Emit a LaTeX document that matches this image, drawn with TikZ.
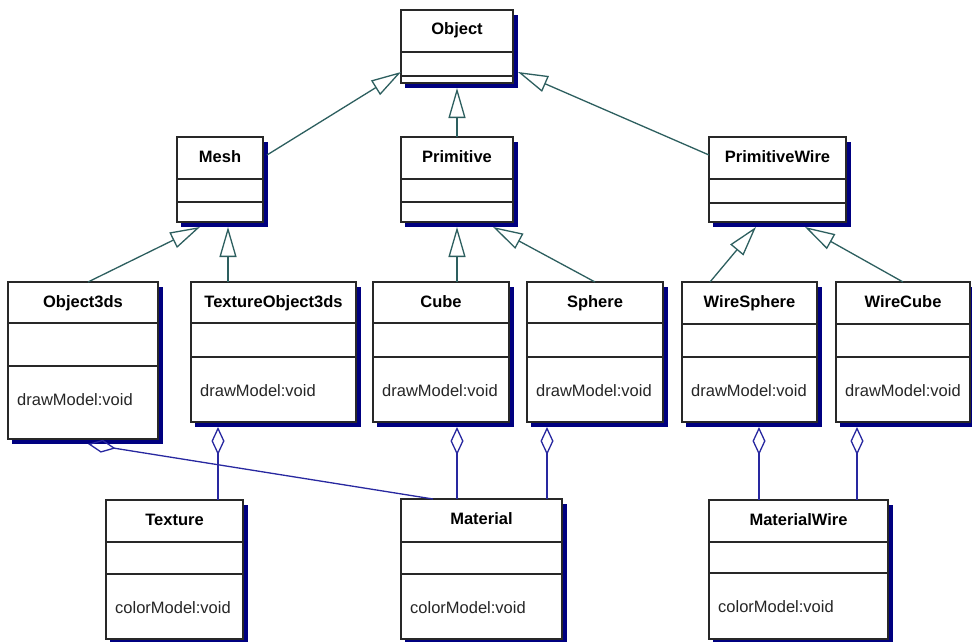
\documentclass[tikz,border=0pt]{standalone}
\usepackage{fontspec}
\setmainfont{Liberation Sans}
\usetikzlibrary{arrows.meta}
\definecolor{genc}{RGB}{45,95,95}
\definecolor{aggc}{RGB}{40,40,160}
\definecolor{shadowc}{RGB}{0,0,128}
\definecolor{boxc}{RGB}{40,40,40}
\tikzset{
  classbox/.style={draw=boxc, line width=1.4pt, fill=white, rectangle, inner sep=0pt, outer sep=0pt},
  sepline/.style={draw=boxc, line width=1.4pt},
  titletext/.style={font=\fontsize{16.5}{18}\selectfont\bfseries, inner sep=0pt},
  optext/.style={font=\fontsize{16.5}{18}\selectfont, inner sep=0pt, text=black!85},
  gen/.style={draw=genc, line width=1.3pt, -{Triangle[open, length=30pt, width=17pt, line width=1.3pt]}},
  agg/.style={draw=aggc, line width=1.3pt, {Diamond[open, length=28pt, width=13pt, line width=1.3pt]}-},
}
% #1 name, #2 x1, #3 y1, #4 x2, #5 y2, #6 first sep, #7 second sep, #8 title, #9 operation
\newcommand\umlclass[9]{%
  \fill[shadowc] (#2+4,#3+5) rectangle (#4+5,#5+5);
  \node[classbox, minimum width={#4pt-#2pt}, minimum height={#5pt-#3pt}] (#1) at ({(#2+#4)/2},{(#3+#5)/2}) {};
  \draw[sepline] (#2,#6) -- (#4,#6);
  \draw[sepline] (#2,#7) -- (#4,#7);
  \node[titletext, anchor=base] (#1-title) at ({(#2+#4)/2},#3+25) {#8};
  \if\relax\detokenize{#9}\relax\else
    \node[optext, anchor=base west] (#1-op) at (#2+9,#7+39) {#9};
  \fi
}
\begin{document}
\begin{tikzpicture}[x=1pt, y=-1pt]
\useasboundingbox (0,0) rectangle (972,642);
\fill[white] (0,0) rectangle (972,642);

\umlclass{object}{401}{10}{513}{83}{52}{76}{Object}{}
\umlclass{mesh}{177}{137}{263}{222}{179}{202}{Mesh}{}
\umlclass{prim}{401}{137}{513}{222}{179}{202}{Primitive}{}
\umlclass{pwire}{709}{137}{846}{222}{179}{203}{PrimitiveWire}{}

\umlclass{obj3ds}{8}{282}{158}{439}{323}{366}{Object3ds}{drawModel:void}
\umlclass{texobj}{191}{282}{356}{422}{323}{357}{TextureObject3ds}{drawModel:void}
\umlclass{cube}{373}{282}{509}{422}{323}{357}{Cube}{drawModel:void}
\umlclass{sphere}{527}{282}{663}{422}{323}{357}{Sphere}{drawModel:void}
\umlclass{wsphere}{682}{282}{817}{422}{324}{357}{WireSphere}{drawModel:void}
\umlclass{wcube}{836}{282}{970}{422}{324}{357}{WireCube}{drawModel:void}

\umlclass{texture}{106}{500}{243}{639}{542}{574}{Texture}{colorModel:void}
\umlclass{material}{401}{499}{562}{639}{542}{574}{Material}{colorModel:void}
\umlclass{matwire}{709}{500}{888}{639}{542}{573}{MaterialWire}{colorModel:void}

% generalizations
\draw[gen] ([xshift=4pt, yshift=-18pt]mesh.north east) -- ([yshift=11pt]object.south west);
\draw[gen] (prim.north) -- ([yshift=-5pt]object.south);
\draw[gen] ([yshift=-18pt]pwire.north west) -- ([xshift=5pt, yshift=11pt]object.south east);
\draw[gen] ([xshift=80pt]obj3ds.north west) -- ([xshift=-20pt, yshift=-5pt]mesh.south);
\draw[gen] ([xshift=37pt]texobj.north west) -- ([xshift=8pt, yshift=-5pt]mesh.south);
\draw[gen] ([xshift=16pt]cube.north) -- ([yshift=-5pt]prim.south);
\draw[gen] (sphere.north) -- ([xshift=36pt, yshift=-5pt]prim.south);
\draw[gen] ([xshift=28pt]wsphere.north west) -- ([xshift=-21.5pt, yshift=-5pt]pwire.south);
\draw[gen] (wcube.north) -- ([xshift=27.5pt, yshift=-5pt]pwire.south);

% aggregations
\draw[agg] ([xshift=80pt, yshift=-5pt]obj3ds.south west) -- ([xshift=32pt]material.north west);
\draw[agg] ([xshift=27pt, yshift=-5pt]texobj.south west) -- ([xshift=112pt]texture.north west);
\draw[agg] ([xshift=16pt, yshift=-5pt]cube.south) -- ([xshift=56pt]material.north west);
\draw[agg] ([xshift=20pt, yshift=-5pt]sphere.south west) -- ([xshift=146pt]material.north west);
\draw[agg] ([xshift=77pt, yshift=-5pt]wsphere.south west) -- ([xshift=50pt]matwire.north west);
\draw[agg] ([xshift=21pt, yshift=-5pt]wcube.south west) -- ([xshift=148pt]matwire.north west);
\end{tikzpicture}
\end{document}
